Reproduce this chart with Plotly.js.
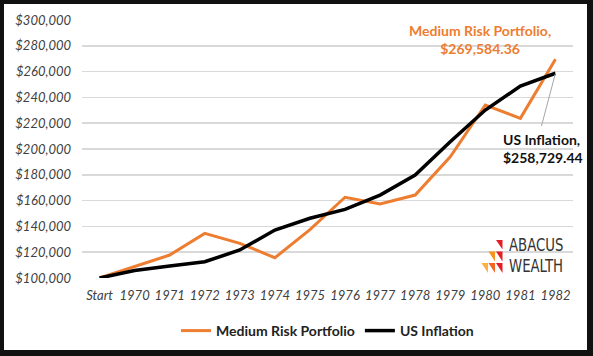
<!DOCTYPE html>
<html>
<head>
<meta charset="utf-8">
<script src="https://cdn.plot.ly/plotly-3.0.1.min.js"></script>
<style>
  html, body { margin: 0; padding: 0; background: #fff; }
  #wrap { position: relative; width: 593px; height: 356px; overflow: hidden; }
  #chart { position: absolute; left: 0; top: 0; width: 593px; height: 356px; }
  #frame { position: absolute; left: 0; top: 0; width: 593px; height: 356px; box-sizing: border-box;
           border-style: solid; border-color: #111; border-width: 4px 6px 6px 4px; pointer-events: none; }
  .logo { position: absolute; left: 509px; top: 234px; font-family: 'DejaVu Sans Condensed', 'DejaVu Sans', sans-serif;
          font-size: 18px; line-height: 21px; color: #333; transform: scaleX(0.82); transform-origin: left top;
          white-space: nowrap; }
</style>
</head>
<body>
<div id="wrap">
  <div id="chart"></div>
  <div class="logo">ABACUS<br>WEALTH</div>
  <div id="frame"></div>
</div>
<script>
// ---- data ----
const categories = ["Start", "1970", "1971", "1972", "1973", "1974", "1975", "1976", "1977", "1978", "1979", "1980", "1981", "1982"];
const mediumRisk = [100000, 108800, 117800, 134600, 126900, 115700, 137500, 162600, 157400, 164300, 194000, 234100, 223800, 269584.36];
const usInflation = [100000, 105800, 109300, 112600, 121700, 137200, 146300, 153200, 164300, 179800, 205600, 230200, 248800, 258729.44];
const seriesNames = ["Medium Risk Portfolio", "US Inflation"];
const yTickValues = [100000, 120000, 140000, 160000, 180000, 200000, 220000, 240000, 260000, 280000, 300000];

const ORANGE = "#ED7D31";
const FONT = "Lato, 'Open Sans', 'Liberation Sans', sans-serif";

// plot-area pixel geometry -> paper coordinates (for decorations only)
const L = 82, R = 573, T = 20, B = 278;
const px = x => (x - L) / (R - L);
const py = y => (B - y) / (B - T);

function tri(x0, y0, x1, y1, color) {
  return {
    type: "path", xref: "paper", yref: "paper",
    path: `M ${px(x0)} ${py(y0)} L ${px(x1)} ${py(y0)} L ${px(x1)} ${py(y1)} Z`,
    fillcolor: color, line: { width: 0 }
  };
}

const lastIdx = categories.length - 1;

const traces = [
  { x: categories, y: mediumRisk, name: seriesNames[0], type: "scatter", mode: "lines",
    line: { color: ORANGE, width: 3 } },
  { x: categories, y: usInflation, name: seriesNames[1], type: "scatter", mode: "lines",
    line: { color: "#000000", width: 3.5 } }
];

const layout = {
  width: 593, height: 356,
  margin: { l: L, r: 593 - R, t: T, b: 356 - B, autoexpand: false },
  paper_bgcolor: "#ffffff", plot_bgcolor: "#ffffff",
  font: { family: FONT, color: "#404040" },
  showlegend: true,
  legend: { orientation: "h", x: 0.5, xanchor: "center", y: py(315), yanchor: "top",
            font: { family: FONT, size: 14, color: "#222", weight: "bold" },
            itemwidth: 30, tracegroupgap: 0 },
  xaxis: {
    type: "category", range: [-0.5, categories.length - 0.5],
    showgrid: false, zeroline: false, showline: false,
    tickfont: { family: FONT, size: 13, color: "#404040", style: "italic" },
    ticks: "", ticklabelstandoff: 8, fixedrange: true, automargin: false
  },
  yaxis: {
    range: [100000, 300000], tickvals: yTickValues, tickformat: "$,d",
    showgrid: true, gridcolor: "#D9D9D9", gridwidth: 1.5, zeroline: false, showline: false,
    tickfont: { family: FONT, size: 13, color: "#404040", style: "italic" },
    ticks: "", ticklabelstandoff: 10, fixedrange: true, automargin: false
  },
  annotations: [
    { xref: "paper", yref: "paper", x: px(480), y: py(39), xanchor: "center", yanchor: "middle",
      text: seriesNames[0] + ",<br>$" + mediumRisk[lastIdx].toLocaleString("en-US", {minimumFractionDigits: 2}),
      showarrow: false, align: "center",
      font: { family: FONT, size: 14, color: ORANGE, weight: "bold" } },
    { xref: "paper", yref: "paper", x: px(501), y: py(148), xanchor: "left", yanchor: "middle",
      text: seriesNames[1] + ",<br>$" + usInflation[lastIdx].toLocaleString("en-US", {minimumFractionDigits: 2}),
      showarrow: false, align: "left",
      font: { family: FONT, size: 14, color: "#111", weight: "bold" } }
  ],
  shapes: [
    { type: "line", xref: "x", yref: "y", x0: lastIdx, y0: usInflation[lastIdx], x1: lastIdx - 0.4, y1: 217800,
      line: { color: "#A6A6A6", width: 1 } },
    tri(496, 240, 502.5, 249.5, "#E31E24"),
    tri(488.5, 251.5, 495, 261.5, "#F7941D"),
    tri(496, 251.5, 502.5, 261.5, "#E31E24"),
    tri(481.5, 263, 488, 273, "#FBB040"),
    tri(488.5, 263, 495, 273, "#F26522"),
    tri(496, 263, 502.5, 273, "#E31E24")
  ]
};

Plotly.newPlot("chart", traces, layout, { displayModeBar: false, staticPlot: true });
</script>
</body>
</html>
